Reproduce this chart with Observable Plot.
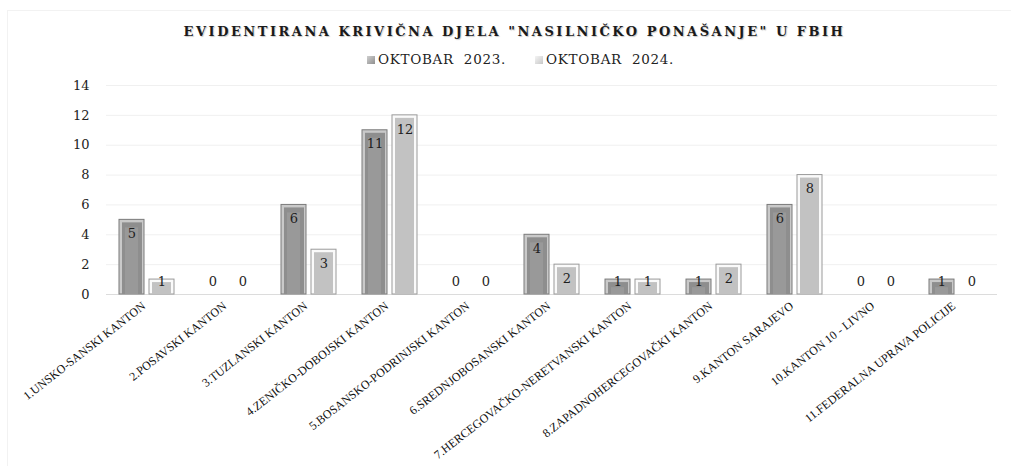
<!DOCTYPE html>
<html><head><meta charset="utf-8">
<script src="https://cdn.jsdelivr.net/npm/d3@7"></script>
<script src="https://cdn.jsdelivr.net/npm/@observablehq/plot@0.6"></script>
<style>
body{margin:0;background:#fff;}
#wrap{position:relative;width:1011px;height:466px;overflow:hidden;background:#fff;}
#frame{position:absolute;left:7px;top:10px;width:1010px;height:470px;border:1px solid #f2f2f2;box-sizing:border-box;}
#title{position:absolute;top:24px;left:9px;width:1011px;text-align:center;font-family:"DejaVu Serif";font-weight:bold;font-size:13px;letter-spacing:2.5px;color:#1a1a1a;text-shadow:1px 1px 1px #c8c8c8;white-space:pre;}
#legend{position:absolute;top:51px;left:15px;width:1011px;text-align:center;font-family:"DejaVu Serif";font-size:13.5px;letter-spacing:0.7px;color:#222;white-space:pre;}
#legend span.sw{display:inline-block;width:8px;height:8px;margin-right:3px;vertical-align:0px;}
#legend span.item{margin:0 14.5px;}
#chart{position:absolute;top:70px;left:0;}
</style>
</head><body>
<div id="wrap">
<div id="frame"></div>
<div id="title"></div>
<div id="legend"></div>
<div id="chart"></div>
</div>
<script>
const titleText = 'EVIDENTIRANA KRIVIČNA DJELA "NASILNIČKO PONAŠANJE" U FBIH';
const categories = [
  "1.UNSKO-SANSKI KANTON",
  "2.POSAVSKI KANTON",
  "3.TUZLANSKI KANTON",
  "4.ZENIČKO-DOBOJSKI KANTON",
  "5.BOSANSKO-PODRINJSKI KANTON",
  "6.SREDNJOBOSANSKI KANTON",
  "7.HERCEGOVAČKO-NERETVANSKI KANTON",
  "8.ZAPADNOHERCEGOVAČKI KANTON",
  "9.KANTON SARAJEVO",
  "10.KANTON 10 - LIVNO",
  "11.FEDERALNA UPRAVA POLICIJE"
];
const seriesNames = ["OKTOBAR  2023.", "OKTOBAR  2024."];
const values2023 = [5, 0, 6, 11, 0, 4, 1, 1, 6, 0, 1];
const values2024 = [1, 0, 3, 12, 0, 2, 1, 2, 8, 0, 0];
const yTicks = [0, 2, 4, 6, 8, 10, 12, 14];

document.getElementById("title").textContent = titleText;
document.getElementById("legend").innerHTML =
  `<span class="item"><span class="sw" style="background:linear-gradient(135deg,#cfcfcf,#8f8f8f)"></span>${seriesNames[0]}</span>` +
  `<span class="item"><span class="sw" style="background:linear-gradient(135deg,#f4f4f4,#c8c8c8)"></span>${seriesNames[1]}</span>`;

const rows = [];
categories.forEach((c, i) => {
  rows.push({cat: c, series: seriesNames[0], value: values2023[i]});
  rows.push({cat: c, series: seriesNames[1], value: values2024[i]});
});
const s0 = rows.filter(d => d.series === seriesNames[0] && d.value > 0);
const s1 = rows.filter(d => d.series === seriesNames[1] && d.value > 0);

const common = {fx: "cat", x: "series", y: "value"};

const chart = Plot.plot({
  width: 1011,
  height: 396,
  marginLeft: 103,
  marginRight: 11,
  marginTop: 15,
  marginBottom: 172,
  style: {fontFamily: "DejaVu Serif", fontSize: "13px", color: "#222", background: "transparent"},
  fx: {domain: categories, paddingInner: 0, paddingOuter: 0, label: null},
  x: {domain: seriesNames, paddingInner: 0.161, paddingOuter: 0.395, axis: null},
  y: {domain: [0, 14], label: null},
  marks: [
    Plot.gridY(yTicks.slice(1), {stroke: "#f0f0f0", strokeOpacity: 1}),
    Plot.ruleY([0], {stroke: "#dcdcdc"}),
    Plot.barY(s0, {...common, fill: "#c9c9c9", stroke: "#7a7a7a", strokeWidth: 1}),
    Plot.barY(s1, {...common, fill: "#fafafa", stroke: "#9a9a9a", strokeWidth: 1}),
    Plot.barY(s0, {...common, fill: "#8e8e8e", insetLeft: 3, insetRight: 2, insetTop: 3}),
    Plot.barY(s1, {...common, fill: "#c2c2c2", insetLeft: 3, insetRight: 3, insetTop: 3}),
    Plot.barY(s0, {...common, fill: "#999999", insetLeft: 6, insetRight: 6, insetTop: 8}),
    Plot.text(rows, {fx: "cat", x: "series", y: d => Math.max(d.value, 1.8), dy: 14,
      text: d => String(d.value), fontSize: 13, fontFamily: "DejaVu Serif", fill: "#1e1e1e"}),
    Plot.axisY({ticks: yTicks, tickSize: 0, tickPadding: 17, fontSize: 13, fontFamily: "DejaVu Serif", label: null, fill: "#222"}),
    Plot.axisFx({anchor: "bottom", tickRotate: -38, tickSize: 0, tickPadding: 10, dx: -3, fontSize: 12, fontFamily: "Liberation Serif", label: null, fill: "#111", stroke: "#111", strokeWidth: 0.15})
  ]
});
document.getElementById("chart").appendChild(chart);
</script>
</body></html>
